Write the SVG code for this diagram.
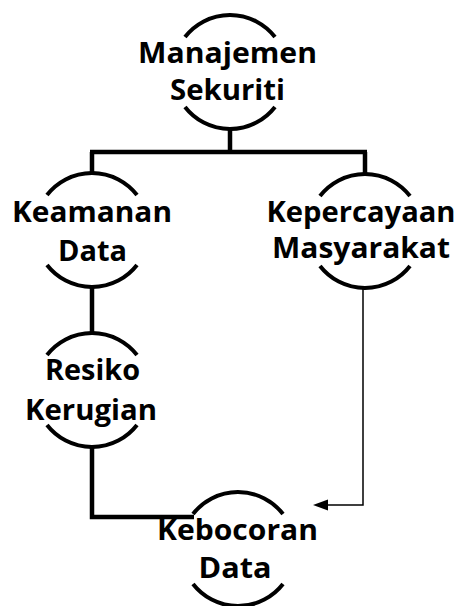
<svg xmlns="http://www.w3.org/2000/svg" width="462" height="606" viewBox="0 0 462 606">
  <style>
    .arc { fill: none; stroke: #000; stroke-width: 4; }
    .label { font-family: "Open Sans", "Noto Sans", "Liberation Sans", sans-serif; font-weight: bold; font-size: 29px; fill: #000; text-anchor: middle; }
    .thick { fill: none; stroke: #000; stroke-width: 4.5; }
    .thin { fill: none; stroke: #000; stroke-width: 1.5; }
  </style>
  <rect width="462" height="606" fill="#fff"/>

  <g id="connectors">
    <!-- tree from the root node -->
    <path class="thick" d="M230,128 V152"/>
    <path class="thick" d="M90,152 H367"/>
    <path class="thick" d="M92,152 V173"/>
    <path class="thick" d="M365,152 V174"/>
    <!-- left branch -->
    <path class="thick" d="M92,287 V333"/>
    <path class="thick" d="M92,447 V517 H194"/>
    <!-- right branch with arrow -->
    <path class="thin" d="M363,288 V505 H324"/>
    <path d="M313,505 L328,499.5 L328,510.5 Z" fill="#000"/>
  </g>

  <g id="manajemen-sekuriti">
    <path class="arc" d="M185,37 A57,57 0 0 1 275,37"/>
    <path class="arc" d="M185,107 A57,57 0 0 0 275,107"/>
    <text class="label" x="227.5" y="63" textLength="179" lengthAdjust="spacingAndGlyphs">Manajemen</text>
    <text class="label" x="227.5" y="100" textLength="115" lengthAdjust="spacingAndGlyphs">Sekuriti</text>
  </g>

  <g id="keamanan-data">
    <path class="arc" d="M47,195 A57,57 0 0 1 137,195"/>
    <path class="arc" d="M47,265 A57,57 0 0 0 137,265"/>
    <text class="label" x="92" y="222" textLength="160" lengthAdjust="spacingAndGlyphs">Keamanan</text>
    <text class="label" x="92.5" y="261" textLength="69" lengthAdjust="spacingAndGlyphs">Data</text>
  </g>

  <g id="kepercayaan-masyarakat">
    <path class="arc" d="M320,196 A57,57 0 0 1 410,196"/>
    <path class="arc" d="M320,266 A57,57 0 0 0 410,266"/>
    <text class="label" x="361" y="222" textLength="189" lengthAdjust="spacingAndGlyphs">Kepercayaan</text>
    <text class="label" x="361" y="258" textLength="178" lengthAdjust="spacingAndGlyphs">Masyarakat</text>
  </g>

  <g id="resiko-kerugian">
    <path class="arc" d="M47,355 A57,57 0 0 1 137,355"/>
    <path class="arc" d="M47,425 A57,57 0 0 0 137,425"/>
    <text class="label" x="92.5" y="380" textLength="95" lengthAdjust="spacingAndGlyphs">Resiko</text>
    <text class="label" x="91" y="420" textLength="132" lengthAdjust="spacingAndGlyphs">Kerugian</text>
  </g>

  <g id="kebocoran-data">
    <path class="arc" d="M193,514 A57,57 0 0 1 283,514"/>
    <path class="arc" d="M193,584 A57,57 0 0 0 283,584"/>
    <text class="label" x="237.5" y="540" textLength="161" lengthAdjust="spacingAndGlyphs">Kebocoran</text>
    <text class="label" x="235" y="578" textLength="73" lengthAdjust="spacingAndGlyphs">Data</text>
  </g>
</svg>
